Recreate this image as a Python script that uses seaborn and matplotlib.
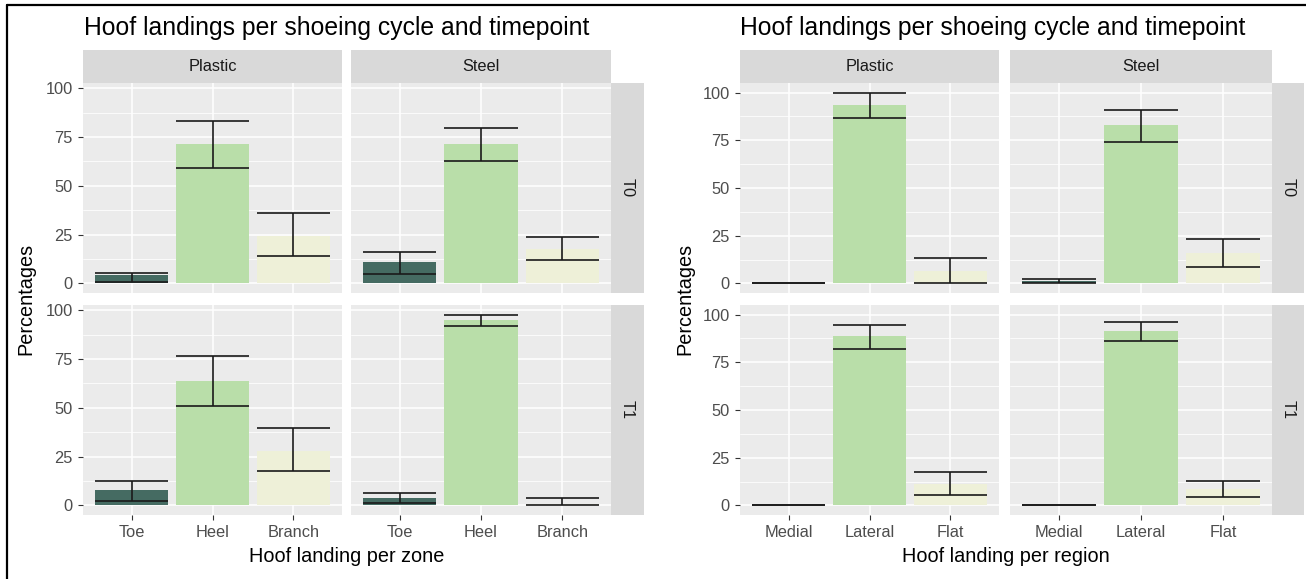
import matplotlib
matplotlib.use("Agg")
import matplotlib.pyplot as plt
from matplotlib.lines import Line2D
import numpy as np
import pandas as pd
import seaborn as sns

sns.set_theme(style="darkgrid")
plt.rcParams["font.family"] = ["Liberation Sans", "DejaVu Sans"]

# ---- data -------------------------------------------------------------
shoes = ["Plastic", "Steel"]
timepoints = ["T0", "T1"]

zone_labels = ["Toe", "Heel", "Branch"]
region_labels = ["Medial", "Lateral", "Flat"]

# landing per zone: mean percentage and 95% interval bounds
zone_t0_plastic = [4.2, 71.4, 24.4]
zone_t0_plastic_lo = [0.5, 58.9, 14.1]
zone_t0_plastic_hi = [5.6, 83.1, 36.1]
zone_t0_steel = [10.9, 71.4, 17.7]
zone_t0_steel_lo = [4.9, 62.5, 11.9]
zone_t0_steel_hi = [16.3, 79.7, 24.0]
zone_t1_plastic = [8.0, 64.0, 28.0]
zone_t1_plastic_lo = [2.2, 51.0, 17.6]
zone_t1_plastic_hi = [12.7, 76.4, 39.7]
zone_t1_steel = [3.8, 95.2, 1.0]
zone_t1_steel_lo = [1.5, 92.0, 0.0]
zone_t1_steel_hi = [6.5, 97.8, 3.6]

# landing per region
region_t0_plastic = [0.0, 93.7, 6.3]
region_t0_plastic_lo = [0.0, 86.9, 0.0]
region_t0_plastic_hi = [0.0, 100.0, 13.3]
region_t0_steel = [1.2, 82.9, 15.9]
region_t0_steel_lo = [0.0, 74.3, 8.7]
region_t0_steel_hi = [2.5, 90.6, 23.4]
region_t1_plastic = [0.0, 88.6, 11.4]
region_t1_plastic_lo = [0.0, 82.1, 5.7]
region_t1_plastic_hi = [0.0, 94.6, 17.4]
region_t1_steel = [0.0, 91.5, 8.5]
region_t1_steel_lo = [0.0, 86.4, 4.3]
region_t1_steel_hi = [0.0, 96.0, 13.0]

fill_colors = ["#456B62", "#B9DEA9", "#EEF0D8"]

# ---- layout helpers ---------------------------------------------------
W, H = 1306, 579
fig = plt.figure(figsize=(W / 100, H / 100), dpi=100)
fig.patch.set_facecolor("white")


def box(x0, y0, x1, y1):
    return [x0 / W, 1 - y1 / H, (x1 - x0) / W, (y1 - y0) / H]


PANEL_BG = "#EBEBEB"
STRIP_BG = "#D9D9D9"
TICK_TXT = "#4D4D4D"
SMALL = 11.8
AXIS_TITLE = 14.3
TITLE = 17.8


def draw_panel(ax, cats, mean, lo, hi, ylim, show_x, show_y):
    df = pd.DataFrame({"cat": cats, "pct": mean, "lo": lo, "hi": hi})
    sns.barplot(data=df, x="cat", y="pct", hue="cat", order=cats,
                hue_order=cats, palette=fill_colors, width=0.9,
                saturation=1, errorbar=None, legend=False, linewidth=0,
                ax=ax)
    xs = np.arange(len(cats))
    ecol = "#1A1A1A"
    ax.hlines(df["lo"], xs - 0.45, xs + 0.45, color=ecol, lw=1.2, zorder=3)
    ax.hlines(df["hi"], xs - 0.45, xs + 0.45, color=ecol, lw=1.2, zorder=3)
    ax.vlines(xs, df["lo"], df["hi"], color=ecol, lw=1.2, zorder=3)

    ax.set_xlim(-0.6, len(cats) - 0.4)
    ax.set_ylim(*ylim)
    ax.set_facecolor(PANEL_BG)
    ax.set_yticks([0, 25, 50, 75, 100])
    ax.set_yticks([12.5, 37.5, 62.5, 87.5], minor=True)
    ax.grid(False)
    ax.grid(True, which="major", color="white", lw=1.1)
    ax.grid(True, which="minor", axis="y", color="white", lw=0.55)
    ax.set_axisbelow(True)
    for s in ax.spines.values():
        s.set_visible(False)
    ax.set_xlabel("")
    ax.set_ylabel("")
    ax.tick_params(axis="both", which="major", length=3.4, width=0.8,
                   color="#333333", labelcolor=TICK_TXT, labelsize=SMALL,
                   pad=4)
    ax.tick_params(axis="both", which="minor", length=0)
    ax.tick_params(bottom=show_x, labelbottom=show_x,
                   left=show_y, labelleft=show_y)


def strip(rect, label, rotation=0):
    sax = fig.add_axes(rect)
    sax.set_facecolor(STRIP_BG)
    sax.set_xticks([])
    sax.set_yticks([])
    for s in sax.spines.values():
        s.set_visible(False)
    sax.grid(False)
    sax.text(0.5, 0.5, label, ha="center", va="center", rotation=rotation,
             color="#1A1A1A", fontsize=SMALL, transform=sax.transAxes)


def padded_limits(lows, highs):
    lo = min(min(v) for v in lows)
    hi = max(max(v) for v in highs)
    pad = 0.05 * (hi - lo)
    return lo - pad, hi + pad


def facet_chart(cats, means, lows, highs, col_x, strip_x, title, title_x,
                xlabel, ylabel_x):
    ylim = padded_limits(lows.values(), highs.values())
    row_y = [(83, 293), (305, 515)]
    for r, tp in enumerate(timepoints):
        for c, shoe in enumerate(shoes):
            x0, x1 = col_x[c]
            y0, y1 = row_y[r]
            ax = fig.add_axes(box(x0, y0, x1, y1))
            key = (tp, shoe)
            draw_panel(ax, cats, means[key], lows[key], highs[key], ylim,
                       show_x=(r == 1), show_y=(c == 0))
        strip(box(strip_x[0], row_y[r][0], strip_x[1], row_y[r][1]), tp,
              rotation=-90)
    for c, shoe in enumerate(shoes):
        strip(box(col_x[c][0], 50, col_x[c][1], 83), shoe)
    fig.text(title_x / W, 1 - 28 / H, title, ha="left", va="center",
             fontsize=TITLE, color="black")
    mid = (col_x[0][0] + col_x[1][1]) / 2
    fig.text(mid / W, 1 - 557 / H, xlabel, ha="center", va="center",
             fontsize=AXIS_TITLE, color="black")
    fig.text(ylabel_x / W, 1 - 299 / H, "Percentages", ha="center",
             va="center", rotation=90, fontsize=AXIS_TITLE, color="black")


title_text = "Hoof landings per shoeing cycle and timepoint"

facet_chart(
    zone_labels,
    {("T0", "Plastic"): zone_t0_plastic, ("T0", "Steel"): zone_t0_steel,
     ("T1", "Plastic"): zone_t1_plastic, ("T1", "Steel"): zone_t1_steel},
    {("T0", "Plastic"): zone_t0_plastic_lo, ("T0", "Steel"): zone_t0_steel_lo,
     ("T1", "Plastic"): zone_t1_plastic_lo, ("T1", "Steel"): zone_t1_steel_lo},
    {("T0", "Plastic"): zone_t0_plastic_hi, ("T0", "Steel"): zone_t0_steel_hi,
     ("T1", "Plastic"): zone_t1_plastic_hi, ("T1", "Steel"): zone_t1_steel_hi},
    col_x=[(83, 342), (351, 611)], strip_x=(611, 644),
    title=title_text, title_x=84, xlabel="Hoof landing per zone",
    ylabel_x=26,
)

facet_chart(
    region_labels,
    {("T0", "Plastic"): region_t0_plastic, ("T0", "Steel"): region_t0_steel,
     ("T1", "Plastic"): region_t1_plastic, ("T1", "Steel"): region_t1_steel},
    {("T0", "Plastic"): region_t0_plastic_lo,
     ("T0", "Steel"): region_t0_steel_lo,
     ("T1", "Plastic"): region_t1_plastic_lo,
     ("T1", "Steel"): region_t1_steel_lo},
    {("T0", "Plastic"): region_t0_plastic_hi,
     ("T0", "Steel"): region_t0_steel_hi,
     ("T1", "Plastic"): region_t1_plastic_hi,
     ("T1", "Steel"): region_t1_steel_hi},
    col_x=[(740, 999), (1010, 1272)], strip_x=(1272, 1304),
    title=title_text, title_x=740, xlabel="Hoof landing per region",
    ylabel_x=685,
)

# frame lines along the top and left edges
fig.add_artist(Line2D([7 / W, 7 / W], [0, 1 - 5 / H], transform=fig.transFigure,
                      color="black", lw=1.6))
fig.add_artist(Line2D([7 / W, 1], [1 - 5 / H, 1 - 5 / H],
                      transform=fig.transFigure, color="black", lw=1.6))

fig.savefig("out.png", dpi=100, facecolor="white")
